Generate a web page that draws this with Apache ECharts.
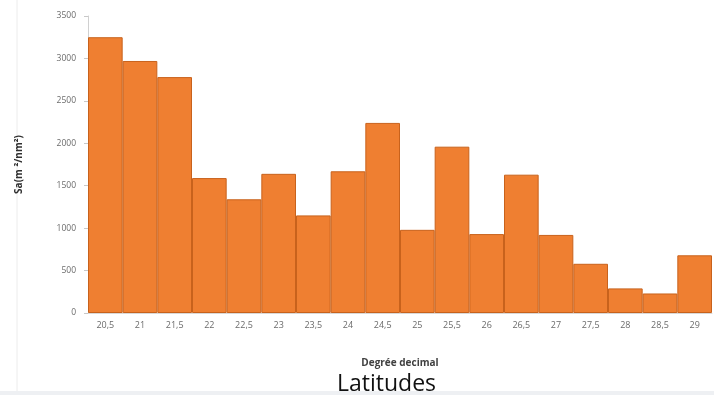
<!DOCTYPE html>
<html>
<head>
<meta charset="utf-8">
<script src="https://cdn.jsdelivr.net/npm/echarts@6/dist/echarts.min.js"></script>
<style>
  html, body { margin: 0; padding: 0; background: #ffffff; }
  #chart { width: 714px; height: 395px; }
</style>
</head>
<body>
<div id="chart"></div>
<script>
// Latitude classes (decimal degrees) and Sa values per class
const latitudes = ['20,5', '21', '21,5', '22', '22,5', '23', '23,5', '24', '24,5',
                   '25', '25,5', '26', '26,5', '27', '27,5', '28', '28,5', '29'];
const saValues = [3250, 2970, 2780, 1590, 1340, 1640, 1150, 1670, 2240,
                  980, 1960, 930, 1630, 920, 580, 290, 230, 680];
const yTicks = [0, 500, 1000, 1500, 2000, 2500, 3000, 3500];

const chart = echarts.init(document.getElementById('chart'), null, { renderer: 'canvas' });

chart.setOption({
  animation: false,
  backgroundColor: '#ffffff',
  grid: { left: 88, right: 2, top: 16, bottom: 82 },
  xAxis: {
    type: 'category',
    data: latitudes,
    name: 'Degrée decimal',
    nameLocation: 'middle',
    nameGap: 45,
    nameTextStyle: { fontFamily: 'Open Sans', fontSize: 10, fontWeight: 'bold', color: '#404040' },
    axisLine: { show: true, lineStyle: { color: '#d9d9d9', width: 1 } },
    axisTick: { show: false },
    axisLabel: { fontFamily: 'Open Sans', fontSize: 9, color: '#6b6b6b', margin: 8 }
  },
  yAxis: {
    type: 'value',
    min: yTicks[0],
    max: yTicks[yTicks.length - 1],
    interval: 500,
    name: 'Sa(m ²/nm²)',
    nameLocation: 'middle',
    nameRotate: 90,
    nameGap: 64,
    nameTextStyle: { fontFamily: 'Open Sans', fontSize: 10, fontWeight: 'bold', color: '#303030' },
    axisLine: { show: true, lineStyle: { color: '#d0d0d0', width: 1 } },
    axisTick: { show: true, length: 4, lineStyle: { color: '#c8c8c8' } },
    splitLine: { show: false },
    axisLabel: {
      fontFamily: 'Open Sans', fontSize: 8.5, color: '#6b6b6b', margin: 12,
      formatter: v => yTicks.includes(v) ? String(v) : ''
    }
  },
  title: {
    text: 'Latitudes',
    left: 337,
    top: 373,
    padding: 0,
    textStyle: { fontFamily: 'Open Sans', fontSize: 23, fontWeight: 'normal', color: '#111111' }
  },
  graphic: [
    { type: 'line', shape: { x1: 17, y1: 0, x2: 17, y2: 391 }, style: { stroke: '#ececec', lineWidth: 1 }, silent: true },
    { type: 'rect', shape: { x: 0, y: 391, width: 714, height: 4 }, style: { fill: '#eef0f3' }, silent: true }
  ],
  series: [{
    type: 'bar',
    data: saValues,
    barCategoryGap: '0%',
    itemStyle: { color: '#ef7f31', borderColor: '#c8621c', borderWidth: 1 }
  }]
});
</script>
</body>
</html>
